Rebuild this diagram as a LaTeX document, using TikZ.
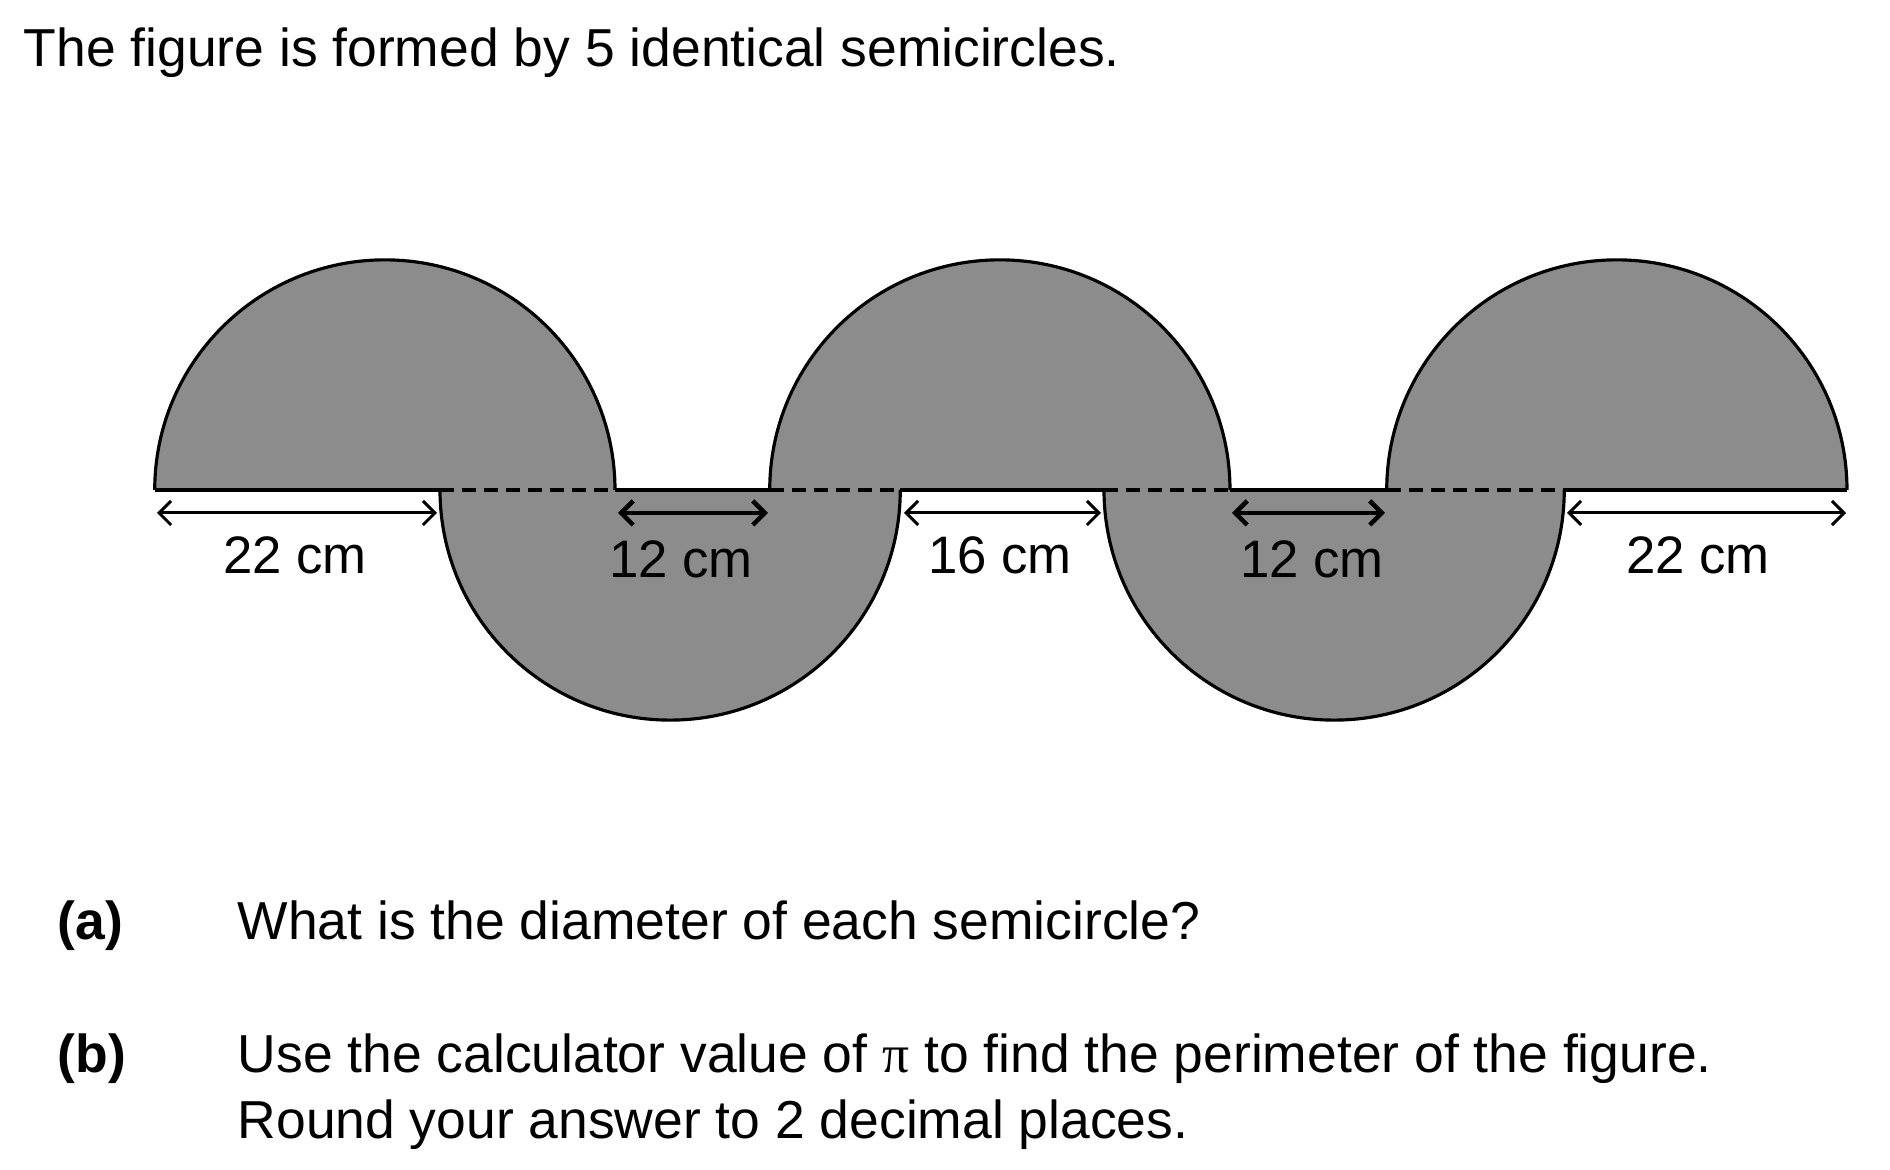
\documentclass[tikz,border=0pt]{standalone}
\usepackage{fontspec}
\setmainfont{Liberation Sans}
\newfontfamily\pifont{Liberation Serif}
\usetikzlibrary{arrows.meta}
\definecolor{shade}{RGB}{140,140,140}
\begin{document}
\begin{tikzpicture}[x=0.01cm,y=0.01cm,
  semi/.style={fill=shade, draw=none},
  rim/.style={line width=0.9pt, black},
  edge/.style={line width=1.1pt, black},
  hidden/.style={line width=1.1pt, black, dash pattern=on 0.14cm off 0.08cm},
  dim/.style={line width=0.85pt, {Straight Barb[length=1.2mm,width=2.4mm]}-{Straight Barb[length=1.2mm,width=2.4mm]}},
  dimbold/.style={dim, line width=1.3pt},
  lab/.style={font=\fontsize{15}{18}\selectfont, anchor=base, inner sep=0},
  txt/.style={font=\fontsize{15.2}{18}\selectfont, anchor=base west, inner sep=0}]
\useasboundingbox (0,0) rectangle (1890,1170);
% ends of the five semicircles on the base line
\coordinate (a1) at (155,680);  \coordinate (b1) at (615,680);
\coordinate (a2) at (440,680);  \coordinate (b2) at (900,680);
\coordinate (a3) at (770,680);  \coordinate (b3) at (1230,680);
\coordinate (a4) at (1104,680); \coordinate (b4) at (1564,680);
\coordinate (a5) at (1387,680); \coordinate (b5) at (1847,680);
% fills
\fill[semi] (b1) arc[start angle=0,end angle=180,radius=2.3cm] -- cycle;
\fill[semi] (a2) arc[start angle=180,end angle=360,radius=2.3cm] -- cycle;
\fill[semi] (b3) arc[start angle=0,end angle=180,radius=2.3cm] -- cycle;
\fill[semi] (a4) arc[start angle=180,end angle=360,radius=2.3cm] -- cycle;
\fill[semi] (b5) arc[start angle=0,end angle=180,radius=2.3cm] -- cycle;
% curved outlines
\draw[rim] (b1) arc[start angle=0,end angle=180,radius=2.3cm];
\draw[rim] (a2) arc[start angle=180,end angle=360,radius=2.3cm];
\draw[rim] (b3) arc[start angle=0,end angle=180,radius=2.3cm];
\draw[rim] (a4) arc[start angle=180,end angle=360,radius=2.3cm];
\draw[rim] (b5) arc[start angle=0,end angle=180,radius=2.3cm];
% base line
\draw[edge] (a1) -- (a2);
\draw[hidden] (a2) -- (b1);
\draw[edge] (b1) -- (a3);
\draw[hidden] (a3) -- (b2);
\draw[edge] (b2) -- (a4);
\draw[hidden] (a4) -- (b3);
\draw[edge] (b3) -- (a5);
\draw[hidden] (a5) -- (b4);
\draw[edge] (b4) -- (b5);
% dimension arrows
\coordinate (p1) at (157,657);  \coordinate (q1) at (437,657);
\coordinate (p2) at (618,657);  \coordinate (q2) at (768,657);
\coordinate (p3) at (904,657);  \coordinate (q3) at (1101,657);
\coordinate (p4) at (1232,657); \coordinate (q4) at (1385,657);
\coordinate (p5) at (1567,657); \coordinate (q5) at (1846,657);
\draw[dim] (p1) -- (q1);
\draw[dimbold] (p2) -- (q2);
\draw[dim] (p3) -- (q3);
\draw[dimbold] (p4) -- (q4);
\draw[dim] (p5) -- (q5);
% labels
\node[lab] (l1) at (295,596) {22 cm};
\node[lab] (l2) at (681,592) {12 cm};
\node[lab] (l3) at (1000,596) {16 cm};
\node[lab] (l4) at (1312,592) {12 cm};
\node[lab] (l5) at (1698,596) {22 cm};
% texts
\node[txt] (title) at (23,1103) {The figure is formed by 5 identical semicircles.};
\node[txt, font=\fontsize{15.2}{18}\selectfont\bfseries] (qa) at (57,230) {(a)};
\node[txt] (ta) at (237,230) {What is the diameter of each semicircle?};
\node[txt, font=\fontsize{15.2}{18}\selectfont\bfseries] (qb) at (57,97) {(b)};
\node[txt] (tb1) at (237,97) {Use the calculator value of {\pifont π} to find the perimeter of the figure.};
\node[txt] (tb2) at (237,31) {Round your answer to 2 decimal places.};
\end{tikzpicture}
\end{document}
